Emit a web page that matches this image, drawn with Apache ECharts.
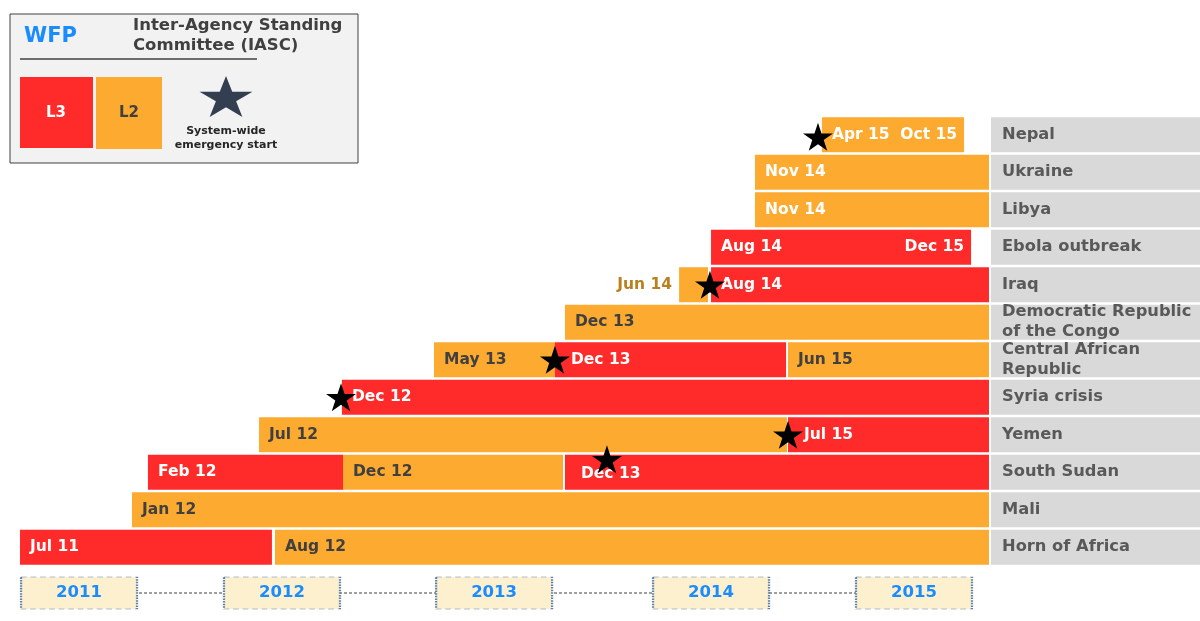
<!DOCTYPE html>
<html>
<head>
<meta charset="utf-8">
<title>WFP / IASC emergencies timeline</title>
<script src="https://cdn.jsdelivr.net/npm/echarts@6/dist/echarts.min.js"></script>
<style>
  html, body { margin: 0; padding: 0; background: #fff; }
  #main { width: 1200px; height: 621px; }
</style>
</head>
<body>
<div id="main"></div>
<script>
// rows, bottom to top
const countries = ['Horn of Africa', 'Mali', 'South Sudan', 'Yemen', 'Syria crisis',
  'Central African\nRepublic', 'Democratic Republic\nof the Congo', 'Iraq',
  'Ebola outbreak', 'Libya', 'Ukraine', 'Nepal'];

// timeline in months since Jan 2011 (positions)
const segRow   = [0, 0, 1, 2, 2, 2, 3, 3, 4, 5, 5, 5, 6, 7, 7, 8, 9, 10, 11];
const segLevel = ['L3', 'L2', 'L2', 'L3', 'L2', 'L3', 'L2', 'L3', 'L3', 'L2', 'L3', 'L2', 'L2', 'L2', 'L3', 'L3', 'L2', 'L2', 'L2'];
const segStart = [6.00, 20.21, 12.24, 13.13, 24.00, 36.37, 19.32, 48.80, 23.94, 29.07, 35.81, 48.80, 36.37, 42.73, 44.51, 44.51, 46.96, 46.96, 50.69];
const segEnd   = [20.04, 60, 60, 24.00, 36.26, 60, 48.74, 60, 60, 35.81, 48.69, 60, 60, 44.34, 60, 59.00, 60, 60, 58.61];
const segLabel = ['Jul 11', 'Aug 12', 'Jan 12', 'Feb 12', 'Dec 12', 'Dec 13', 'Jul 12', 'Jul 15', 'Dec 12',
  'May 13', 'Dec 13', 'Jun 15', 'Dec 13', 'Jun 14', 'Aug 14', 'Aug 14', 'Nov 14', 'Nov 14', 'Apr 15'];

// labels at the end of a finished bar
const endRow   = [8, 11];
const endValue = [59.00, 58.61];
const endLabel = ['Dec 15', 'Oct 15'];

// system-wide emergency start
const starRow   = [11, 7, 5, 4, 3, 2];
const starValue = [50.47, 44.45, 35.81, 23.89, 48.80, 38.71];

// year markers
const years   = ['2011', '2012', '2013', '2014', '2015'];
const yearPos = [9.29, 20.60, 32.42, 44.51, 55.82];

const RED = '#ff2a2a';
const ORANGE = '#fdaa30';
const FONT = 'Verdana, "DejaVu Sans", sans-serif';
const STAR_PTS = [[50, 0], [61.23, 34.55], [97.55, 34.55], [68.16, 55.9], [79.39, 90.45],
  [50, 69.1], [20.61, 90.45], [31.84, 55.9], [2.45, 34.55], [38.77, 34.55]];
const STAR = 'path://M' + STAR_PTS.map(p => p.join(' ')).join(' L') + ' Z';
const STAR_NUDGE = { 2: -13, 11: 2 }; // star sits above the label in South Sudan

const segData = segRow.map((r, i) => [r, segStart[i], segEnd[i], i]);

function renderSeg(params, api) {
  const row = api.value(0);
  const i = api.value(3);
  const p0 = api.coord([api.value(1), row]);
  const p1 = api.coord([api.value(2), row]);
  const h = api.size([0, 1])[1] * 0.93;
  const rect = echarts.graphic.clipRectByRect(
    { x: p0[0], y: p0[1] - h / 2, width: p1[0] - p0[0], height: h },
    params.coordSys);
  if (!rect) return;
  const l3 = segLevel[i] === 'L3';
  let color = l3 ? '#ffffff' : (row >= 9 ? '#ffffff' : '#404040');
  let position = 'insideLeft';
  let distance = 10;
  let offset = [0, 0];
  // a star inside the start of the bar pushes the label right
  starRow.forEach((sr, k) => {
    const d = starValue[k] - segStart[i];
    if (sr === row && d >= 0 && d < 3 && segEnd[i] - segStart[i] > 3) {
      distance = 16;
      if (STAR_NUDGE[sr] < 0) offset = [0, 2];
    }
  });
  if (rect.width < 40) { // narrow box: label outside
    position = 'left';
    distance = 7;
    color = '#b8801e';
  }
  return {
    type: 'rect',
    shape: rect,
    style: { fill: l3 ? RED : ORANGE },
    textContent: {
      style: { text: segLabel[i], fill: color, font: 'bold 15.5px ' + FONT }
    },
    textConfig: { position: position, distance: distance, offset: offset }
  };
}

function renderEnd(params, api) {
  const p = api.coord([api.value(1), api.value(0)]);
  return {
    type: 'text',
    x: p[0] - 7,
    y: p[1],
    style: {
      text: endLabel[api.value(2)], fill: '#ffffff', font: 'bold 15.5px ' + FONT,
      textAlign: 'right', textVerticalAlign: 'middle'
    }
  };
}

const chart = echarts.init(document.getElementById('main'));
chart.setOption({
  animation: false,
  backgroundColor: '#ffffff',
  grid: [
    { left: 20, right: 211, top: 116, bottom: 55 },
    { left: 991, right: 0, top: 116, bottom: 55 },
    { left: 20, right: 211, top: 576, height: 34 }
  ],
  xAxis: [
    { type: 'value', gridIndex: 0, min: 6, max: 60, show: false },
    { type: 'value', gridIndex: 1, min: 0, max: 1, show: false },
    { type: 'value', gridIndex: 2, min: 6, max: 60, show: false }
  ],
  yAxis: [
    { type: 'category', gridIndex: 0, data: countries, show: false },
    { type: 'category', gridIndex: 1, data: countries, show: false },
    { type: 'value', gridIndex: 2, min: 0, max: 1, show: false }
  ],
  series: [
    {
      type: 'custom',
      xAxisIndex: 0, yAxisIndex: 0,
      renderItem: renderSeg,
      encode: { x: [1, 2], y: 0 },
      data: segData,
      z: 2
    },
    {
      type: 'custom',
      xAxisIndex: 0, yAxisIndex: 0,
      renderItem: renderEnd,
      encode: { x: 1, y: 0 },
      data: endRow.map((r, i) => [r, endValue[i], i]),
      z: 3
    },
    {
      type: 'scatter',
      xAxisIndex: 0, yAxisIndex: 0,
      symbol: STAR,
      symbolSize: [30, 28],
      itemStyle: { color: '#000000', opacity: 1 },
      data: starRow.map((r, i) => ({
        value: [starValue[i], r],
        symbolOffset: [0, STAR_NUDGE[r] || 0]
      })),
      z: 5
    },
    {
      type: 'bar',
      xAxisIndex: 1, yAxisIndex: 1,
      data: countries.map(() => 1),
      barWidth: 35,
      itemStyle: { color: '#d9d9d9' },
      label: {
        show: true,
        position: 'insideLeft',
        distance: 11,
        formatter: p => p.name,
        color: '#595959',
        fontFamily: FONT,
        fontWeight: 'bold',
        fontSize: 16.3,
        lineHeight: 20
      },
      silent: true
    },
    {
      type: 'line',
      xAxisIndex: 2, yAxisIndex: 2,
      data: yearPos.map(x => [x, 0.5]),
      symbol: 'none',
      lineStyle: { color: '#7f7f7f', width: 1.5, type: [3, 2] },
      z: 1
    },
    {
      type: 'scatter',
      xAxisIndex: 2, yAxisIndex: 2,
      data: yearPos.map((x, i) => ({ value: [x, 0.5], name: years[i] })),
      symbol: 'rect',
      symbolSize: [116, 32],
      itemStyle: {
        color: '#fdf0cf', opacity: 1,
        borderColor: '#5f80aa', borderWidth: 1.2, borderType: [3, 2]
      },
      label: {
        show: true,
        position: 'inside',
        formatter: p => p.name,
        color: '#1a8cff',
        fontFamily: FONT,
        fontWeight: 'bold',
        fontSize: 16.5
      },
      z: 3
    }
  ],
  graphic: [
    { type: 'rect', shape: { x: 10, y: 14, width: 348, height: 149 },
      style: { fill: '#f2f2f2', stroke: '#404040', lineWidth: 1 } },
    { type: 'text', x: 24, y: 37,
      style: { text: 'WFP', fill: '#1a8cff', font: 'bold 21px ' + FONT, textVerticalAlign: 'middle' } },
    { type: 'text', x: 133, y: 16,
      style: { text: 'Inter-Agency Standing\nCommittee (IASC)', fill: '#404040',
        font: 'bold 16.5px ' + FONT, lineHeight: 20 } },
    { type: 'line', shape: { x1: 20, y1: 59, x2: 257, y2: 59 },
      style: { stroke: '#404040', lineWidth: 1.5 } },
    { type: 'rect', shape: { x: 20, y: 77, width: 73, height: 71 }, style: { fill: RED } },
    { type: 'text', x: 56, y: 113,
      style: { text: 'L3', fill: '#ffffff', font: 'bold 15px ' + FONT, textAlign: 'center', textVerticalAlign: 'middle' } },
    { type: 'rect', shape: { x: 96, y: 77, width: 66, height: 72 }, style: { fill: ORANGE } },
    { type: 'text', x: 129, y: 113,
      style: { text: 'L2', fill: '#404040', font: 'bold 15px ' + FONT, textAlign: 'center', textVerticalAlign: 'middle' } },
    { type: 'polygon',
      shape: { points: STAR_PTS.map(p => [226 + (p[0] - 50) * 0.557, 76 + p[1] * 0.453]) },
      style: { fill: '#333f50' } },
    { type: 'text', x: 226, y: 124,
      style: { text: 'System-wide\nemergency start', fill: '#262626', font: 'bold 11px ' + FONT,
        lineHeight: 14, textAlign: 'center' } }
  ]
});
</script>
</body>
</html>
